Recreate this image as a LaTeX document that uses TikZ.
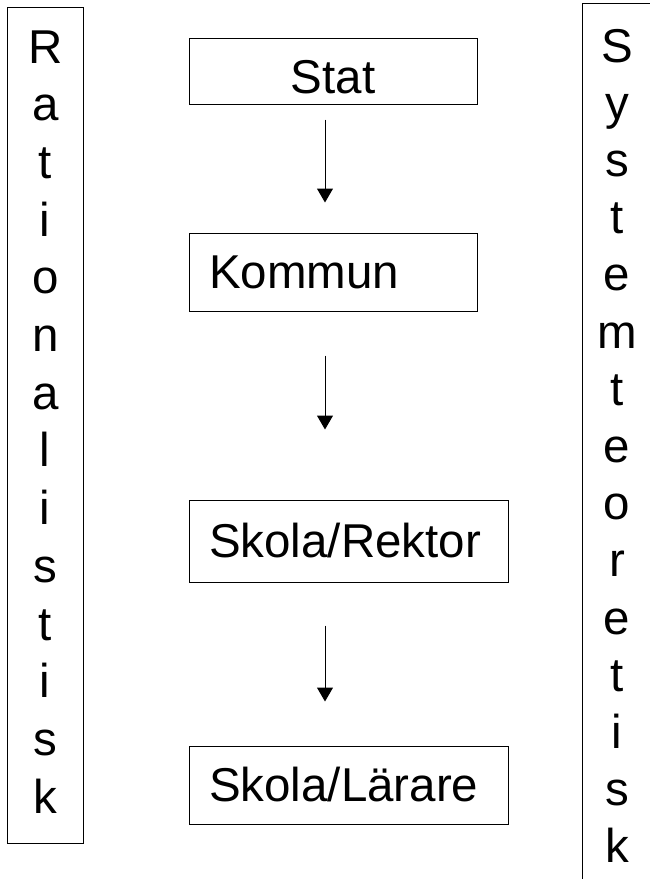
\documentclass[tikz,border=0pt]{standalone}
\usepackage{fontspec}
\setmainfont{Liberation Sans}
\usetikzlibrary{arrows.meta}

\begin{document}
\begin{tikzpicture}[
  x=1pt, y=-1pt,
  every node/.style={font=\fontsize{47.5}{57.5}\selectfont},
  box/.style={draw, line width=1pt, inner sep=0pt, inner xsep=20pt},
  tallbox/.style={draw, line width=1pt, inner sep=0pt},
  letter/.style={anchor=base, inner sep=0pt},
  flow/.style={-{Triangle[width=16pt,length=14pt]}, line width=1pt}
]
\clip (0,0) rectangle (650,879);
\node[box, align=center, minimum width=288pt, minimum height=66pt, text height=44pt, text depth=0pt] (stat) at (333,71) {Stat};
\node[box, text width=248pt, align=left, minimum height=78pt] (kommun) at (333,272) {Kommun};
\node[box, text width=279pt, align=left, minimum height=82pt] (rektor) at (348.5,541) {Skola/Rektor};
\node[box, text width=279pt, align=left, minimum height=78pt] (larare) at (348.5,785) {Skola/Lärare};

\node[tallbox, minimum width=75.5pt, minimum height=836pt] (rational) at (45.25,425) {};
\node[tallbox, minimum width=70pt, minimum height=890pt] (system) at (617,448) {};
\foreach \ch [count=\i from 0] in {R,a,t,i,o,n,a,l,i,s,t,i,s,k}
  \node[letter] (rat-\i) at (45.25, 63+57.7*\i) {\ch};
\foreach \ch [count=\i from 0] in {S,y,s,t,e,m,t,e,o,r,e,t,i,s,k}
  \node[letter] (sys-\i) at (617, 62+57.2*\i) {\ch};

\draw[flow] ([xshift=-8pt, yshift=-15pt]stat.south) -- ([xshift=-8pt, yshift=30pt]kommun.north);
\draw[flow] ([xshift=-8pt, yshift=-44pt]kommun.south) -- ([xshift=-23.5pt, yshift=70pt]rektor.north);
\draw[flow] ([xshift=-23.5pt, yshift=-43pt]rektor.south) -- ([xshift=-23.5pt, yshift=44pt]larare.north);
\end{tikzpicture}
\end{document}
